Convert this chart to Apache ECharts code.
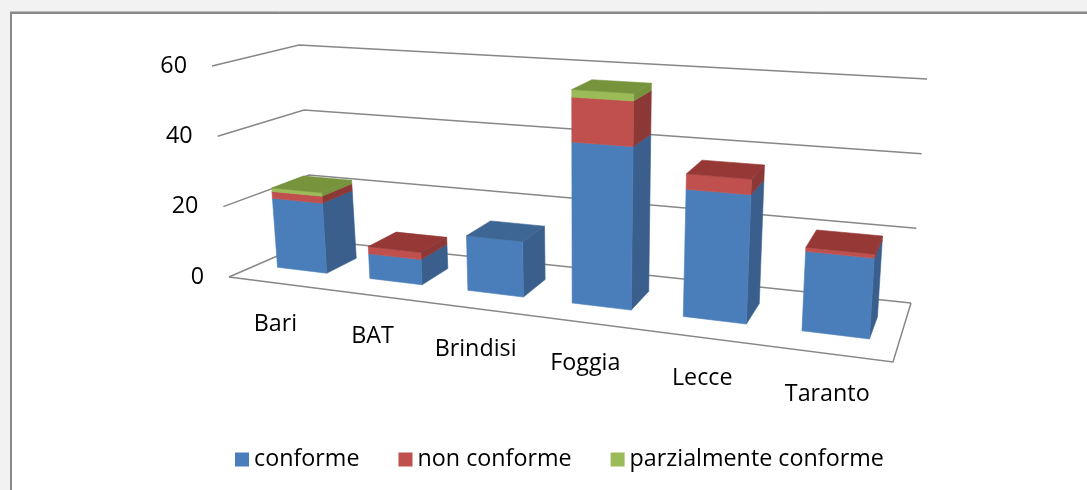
<!DOCTYPE html>
<html><head><meta charset="utf-8">
<script src="https://cdn.jsdelivr.net/npm/echarts@6/dist/echarts.min.js"></script>
<style>html,body{margin:0;padding:0;background:#f2f2f2;} #c{width:1087px;height:490px;}</style>
</head><body><div id="c"></div>
<script>
// ---------- data ----------
const categories = ['Bari', 'BAT', 'Brindisi', 'Foggia', 'Lecce', 'Taranto'];
const conforme = [20, 7, 15, 43, 33, 20];
const nonConforme = [2, 2, 0, 12, 4, 1];
const parzialmente = [1, 0, 0, 2, 0, 0];
const yTicks = [0, 20, 40, 60];
const seriesNames = ['conforme', 'non conforme', 'parzialmente conforme'];

// ---------- layout / style ----------
const Y_MAX = 60;
const G = { left: 0, top: 0, width: 1000, height: 400 };   // hidden helper grid (library scales)
const BAR_FRAC = 0.54, W0 = 0.33, W1 = 0.71;               // bar width (share of slot), depth range
const PERSP_K = 0.827;                                      // horizontal foreshortening
const FONT = 'Open Sans', FS = 23.3;
const COL = [
  { front: '#4a7ebb', side: '#3a5f8d', top: '#3e6695' },
  { front: '#c0504d', side: '#8c3836', top: '#953836' },
  { front: '#9bbb59', side: '#76923c', top: '#77933c' }
];
// 3D frame corners on screen: [depth][level][side] -> [x, y]
// depth 0 = front, 1 = back; level 0 = value 0, 1 = value max; side 0 = left, 1 = right
const FRAME = [
  [[[229, 277], [893, 362]], [[212, 66], [909, 108]]],
  [[[314, 240], [911, 303]], [[299, 45], [927, 79]]]
];

function lerp(a, b, t) { return [a[0] + (b[0] - a[0]) * t, a[1] + (b[1] - a[1]) * t]; }
// u, v, w all in [0,1]
function project(u, v, w) {
  const uf = PERSP_K * u / (1 + (PERSP_K - 1) * u);
  const pt = d => lerp(lerp(FRAME[d][0][0], FRAME[d][0][1], uf), lerp(FRAME[d][1][0], FRAME[d][1][1], uf), v);
  return lerp(pt(0), pt(1), w);
}
// grid pixel -> normalized world, using the axis scale itself
function normU(api, x) {
  const a = api.coord([0, 0])[0] - api.size([1, 0])[0] / 2;
  return (x - a) / (api.size([1, 0])[0] * categories.length);
}
function normV(api, y) {
  const y0 = api.coord([0, 0])[1], y1 = api.coord([0, Y_MAX])[1];
  return (y0 - y) / (y0 - y1);
}

const stacks = [conforme, nonConforme, parzialmente];

function barRender(k) {
  return function (params, api) {
    const i = api.value(0), val = api.value(1);
    if (!val) return null;
    let base = 0; for (let j = 0; j < k; j++) base += stacks[j][i];
    let above = 0; for (let j = k + 1; j < stacks.length; j++) above += stacks[j][i];
    const p0 = api.coord([i, base]), p1 = api.coord([i, base + val]);
    const slotU = 1 / categories.length;
    const uc = normU(api, p0[0]), du = slotU * BAR_FRAC / 2;
    const v0 = normV(api, p0[1]), v1 = normV(api, p1[1]);
    const uL = uc - du, uR = uc + du;
    const P = project;
    const poly = (pts, fill) => ({ type: 'polygon', shape: { points: pts }, style: { fill: fill, stroke: fill, lineWidth: 0.6 } });
    const children = [
      poly([P(uR, v0, W0), P(uR, v0, W1), P(uR, v1, W1), P(uR, v1, W0)], COL[k].side),
      poly([P(uL, v0, W0), P(uR, v0, W0), P(uR, v1, W0), P(uL, v1, W0)], COL[k].front)
    ];
    if (!above) children.push(poly([P(uL, v1, W0), P(uR, v1, W0), P(uR, v1, W1), P(uL, v1, W1)], COL[k].top));
    return { type: 'group', children: children };
  };
}

function gridRender(params, api) {
  const t = api.value(1);
  const v = normV(api, api.coord([0, t])[1]);
  const a = project(0, v, 0), b = project(0, v, 1), c = project(1, v, 1);
  const children = [
    { type: 'polyline', shape: { points: [a, b, c] }, style: { stroke: '#878787', lineWidth: 1.5, fill: null } },
    { type: 'text', x: a[0] - 25, y: a[1], style: { text: String(t), fontFamily: FONT, fontSize: FS, fill: '#000', align: 'right', verticalAlign: 'middle' } }
  ];
  if (t === 0) {
    children.push({ type: 'polyline', shape: { points: [a, project(1, 0, 0), c] }, style: { stroke: '#878787', lineWidth: 1.5, fill: null } });
  }
  return { type: 'group', children: children };
}

function labelRender(params, api) {
  const i = api.value(0);
  const u = normU(api, api.coord([i, 0])[0]);
  const p = project(u, 0, 0);
  return { type: 'text', x: p[0], y: p[1] + 41, style: { text: categories[i], fontFamily: FONT, fontSize: FS, fill: '#000', align: 'center', verticalAlign: 'middle' } };
}

const chart = echarts.init(document.getElementById('c'), null, { renderer: 'canvas' });
const series = [
  { type: 'custom', name: '_grid', renderItem: gridRender, data: yTicks.map(t => [0, t]), z: 1, silent: true, encode: { x: 0, y: 1 } },
  { type: 'custom', name: '_labels', renderItem: labelRender, data: categories.map((c, i) => [i, 0]), z: 1, silent: true, encode: { x: 0, y: 1 } }
];
stacks.forEach((arr, k) => {
  series.push({
    type: 'custom', name: seriesNames[k], renderItem: barRender(k),
    data: arr.map((v, i) => [i, v]), encode: { x: 0, y: 1 },
    itemStyle: { color: COL[k].front }, z: 3
  });
});

chart.setOption({
  backgroundColor: '#f2f2f2',
  animation: false,
  graphic: [
    { type: 'rect', z: 0, shape: { x: 11, y: 13, width: 1200, height: 600 }, style: { fill: '#ffffff', stroke: '#898989', lineWidth: 2 } },
    { type: 'line', z: 0, shape: { x1: 10, y1: 11.5, x2: 1100, y2: 11.5 }, style: { stroke: '#bdbdbd', lineWidth: 1 } }
  ],
  grid: { left: G.left, top: G.top, width: G.width, height: G.height, show: false },
  xAxis: { type: 'category', data: categories, show: false },
  yAxis: { type: 'value', min: 0, max: Y_MAX, interval: 20, show: false },
  legend: {
    data: seriesNames, left: 235, top: 448, icon: 'rect', itemWidth: 14, itemHeight: 14, itemGap: 39, padding: 0,
    textStyle: { fontFamily: FONT, fontSize: FS, color: '#000' }
  },
  series: series
});
</script>
</body></html>
